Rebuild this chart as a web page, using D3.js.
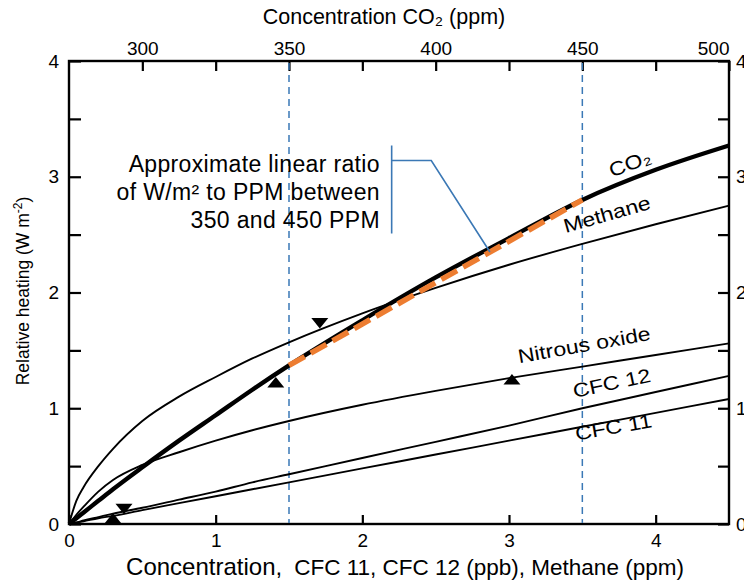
<!DOCTYPE html>
<html><head><meta charset="utf-8">
<script src="https://cdn.jsdelivr.net/npm/d3@7"></script>
<style>
body{margin:0;background:#fff}
text{font-family:"Liberation Sans",Arial,sans-serif;fill:#000}
</style>
</head><body>
<svg id="c" width="744" height="580"></svg>
<script>
// ---------- data ----------
const xs      = [0, 0.05, 0.1, 0.2, 0.3, 0.5, 0.75, 1, 1.25, 1.5, 2, 2.5, 3, 3.5, 4, 4.5];
const co2     = [0, 0.05, 0.10, 0.20, 0.30, 0.49, 0.72, 0.94, 1.16, 1.37, 1.76, 2.13, 2.47, 2.80, 3.06, 3.27];
const methane = [0, 0.20, 0.32, 0.50, 0.65, 0.89, 1.10, 1.27, 1.43, 1.57, 1.82, 2.04, 2.24, 2.42, 2.59, 2.75];
const nitrous = [0, 0.08, 0.15, 0.28, 0.38, 0.51, 0.62, 0.72, 0.81, 0.89, 1.03, 1.15, 1.26, 1.36, 1.46, 1.56];
const cfc12   = [0, 0.014, 0.03, 0.06, 0.09, 0.14, 0.21, 0.28, 0.36, 0.43, 0.57, 0.71, 0.85, 1.00, 1.14, 1.28];
const cfc11   = [0, 0.012, 0.024, 0.05, 0.07, 0.12, 0.18, 0.24, 0.30, 0.36, 0.48, 0.60, 0.72, 0.84, 0.96, 1.08];

const markerX   = [0.375, 0.30, 1.41, 1.71, 3.02];
const markerY   = [0.145, 0.035, 1.21, 1.75, 1.235];
const markerDir = ["down", "up", "up", "down", "up"];

const yTicks     = [0, 0.5, 1, 1.5, 2, 2.5, 3, 3.5, 4];
const xTicks     = [0, 1, 2, 3, 4];
const ppmTicks   = [300, 325, 350, 375, 400, 425, 450, 475, 500];
const ppmLabeled = [300, 350, 400, 450, 500];
const refPpm     = [350, 450];
const fitPpm     = [350, 450];
const fitVal     = [1.37, 2.80];

const curveNames = ["CO\u2082", "Methane", "Nitrous oxide", "CFC 12", "CFC 11"];
const annotLines = ["Approximate linear ratio", "of W/m\u00B2 to PPM between", "350 and 450 PPM"];

// ---------- layout ----------
const L = 69, R = 729, T = 61, B = 524;
const svg = d3.select("#c");
const x = d3.scaleLinear().domain([0, 4.5]).range([L, R]);
const xppm = d3.scaleLinear().domain([275, 500]).range([L, R]);
const y = d3.scaleLinear().domain([0, 4]).range([B, T]);

const fmtY = d => Number.isInteger(d) ? d : "";
// axes
const gl = svg.append("g").attr("transform", `translate(${L},0)`)
  .call(d3.axisLeft(y).tickValues(yTicks).tickSize(-12).tickPadding(10).tickFormat(fmtY));
const gr = svg.append("g").attr("transform", `translate(${R},0)`)
  .call(d3.axisRight(y).tickValues(yTicks).tickSize(-11).tickPadding(7).tickFormat(fmtY));
const gb = svg.append("g").attr("transform", `translate(0,${B})`)
  .call(d3.axisBottom(x).tickValues(xTicks).tickSize(-9).tickPadding(10).tickFormat(d3.format("d")));
const gt = svg.append("g").attr("transform", `translate(0,${T})`)
  .call(d3.axisTop(xppm).tickValues(ppmTicks).tickSize(-10).tickPadding(6)
    .tickFormat(d => ppmLabeled.includes(d) ? d : ""));
[gl, gr, gb, gt].forEach(g => {
  g.select(".domain").remove();
  g.selectAll(".tick line").attr("stroke", "#000").attr("stroke-width", 2.2);
  g.selectAll(".tick text").attr("font-size", 19).attr("font-family", "Liberation Sans, Arial, sans-serif").attr("fill", "#000");
});
gt.selectAll(".tick text").filter(d => d === 500).attr("text-anchor", "end").attr("dx", 0);

// frame
svg.append("rect").attr("x", L).attr("y", T).attr("width", R - L).attr("height", B - T)
  .attr("fill", "none").attr("stroke", "#000").attr("stroke-width", 2.4);

// reference dashed lines
svg.append("g").selectAll("line").data(refPpm).join("line")
  .attr("x1", d => xppm(d)).attr("x2", d => xppm(d)).attr("y1", T + 2).attr("y2", B - 1)
  .attr("stroke", "#3A78B6").attr("stroke-width", 1.5).attr("stroke-dasharray", "7,5");

// curves
const line = d3.line().x((d, i) => x(xs[i])).y(d => y(d)).curve(d3.curveMonotoneX);
const series = [
  {v: cfc11, w: 1.9}, {v: cfc12, w: 1.9}, {v: nitrous, w: 1.9},
  {v: methane, w: 1.9}, {v: co2, w: 4.4}
];
svg.append("g").selectAll("path").data(series).join("path")
  .attr("d", d => line(d.v)).attr("fill", "none").attr("stroke", "#000")
  .attr("stroke-width", d => d.w).attr("stroke-linejoin", "round");

// linear fit (orange dashed)
svg.append("line")
  .attr("x1", xppm(fitPpm[0])).attr("y1", y(fitVal[0]))
  .attr("x2", xppm(fitPpm[1])).attr("y2", y(fitVal[1]))
  .attr("stroke", "#ED7D31").attr("stroke-width", 5.5).attr("stroke-dasharray", "18,7");

// triangle markers
const tri = d3.symbol().type(d3.symbolTriangle).size(80);
svg.append("g").selectAll("path").data(markerX).join("path")
  .attr("d", tri)
  .attr("transform", (d, i) => `translate(${x(d)},${y(markerY[i])}) rotate(${markerDir[i] === "down" ? 180 : 0}) scale(1.25,0.9)`)
  .attr("fill", "#000");

// curve labels
const labelPos = [
  {x: 3.84, y: 3.06, r: -21},
  {x: 3.68, y: 2.62, r: -16},
  {x: 3.52, y: 1.49, r: -10},
  {x: 3.71, y: 1.16, r: -12},
  {x: 3.72, y: 0.78, r: -10}
];
svg.append("g").selectAll("text").data(curveNames).join("text")
  .attr("transform", (d, i) => `translate(${x(labelPos[i].x)},${y(labelPos[i].y)}) rotate(${labelPos[i].r}) scale(1.18,1)`)
  .attr("text-anchor", "middle").attr("font-size", 19.5)
  .text(d => d);

// axis titles
svg.append("text").attr("x", 384).attr("y", 24).attr("text-anchor", "middle")
  .attr("font-size", 21.5).text("Concentration CO\u2082 (ppm)");
const bt = svg.append("text").attr("x", 405).attr("y", 575).attr("text-anchor", "middle");
bt.append("tspan").attr("font-size", 24).text("Concentration,");
bt.append("tspan").attr("font-size", 22.5).attr("dx", 12).text("CFC 11, CFC 12 (ppb), Methane (ppm)");
const yl = svg.append("text").attr("transform", "translate(29,291) rotate(-90)").attr("text-anchor", "middle")
  .attr("font-size", 17.5);
yl.append("tspan").text("Relative heating (W m");
yl.append("tspan").attr("dy", -7).attr("font-size", 12).text("-2");
yl.append("tspan").attr("dy", 7).text(")");

// annotation
const annX = 2.12, annY = [3.04, 2.80, 2.56];
svg.append("g").selectAll("text").data(annotLines).join("text")
  .attr("x", x(annX)).attr("y", (d, i) => y(annY[i]))
  .attr("text-anchor", "end").attr("font-family", "'Open Sans', Lato, sans-serif")
  .attr("font-size", 23).attr("letter-spacing", 0.35).attr("fill", "#1a1a1a").text(d => d);
const bx = 2.20, bTop = 3.27, bBot = 2.51, elbowY = 3.14, elbowX = 2.47, endX = 2.87;
const fitAt = v => fitVal[0] + (fitVal[1] - fitVal[0]) * (v - 1.5) / 2;
svg.append("path")
  .attr("d", `M${x(bx)},${y(bTop)}V${y(bBot)}M${x(bx)},${y(elbowY)}H${x(elbowX)}L${x(endX)},${y(fitAt(endX))}`)
  .attr("fill", "none").attr("stroke", "#3B78B5").attr("stroke-width", 1.6);
</script>
</body></html>
